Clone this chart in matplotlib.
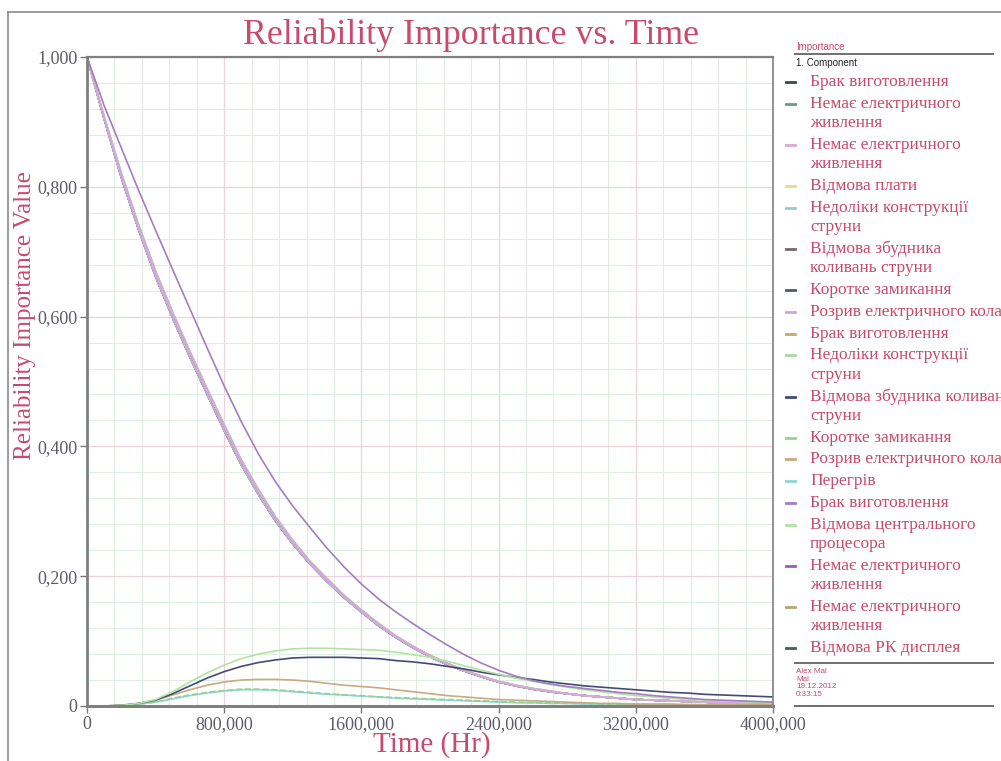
"""
Reliability Importance vs. Time (BlockSim-style chart)
"""
import numpy as np
import matplotlib
matplotlib.use("Agg")
from matplotlib import pyplot as plt
from matplotlib.lines import Line2D
from matplotlib.ticker import MultipleLocator

plt.rcParams["font.family"] = ["Liberation Serif", "DejaVu Serif"]

# time grid [Hr]
t = np.arange(0, 4_000_001, 100_000)

# values (every 100,000 Hr)
bundle = [1.000, 0.905, 0.815, 0.735, 0.662, 0.598, 0.538, 0.481, 0.425, 0.372,
          0.326, 0.285, 0.250, 0.219, 0.192, 0.167, 0.145, 0.124, 0.106, 0.090,
          0.076, 0.064, 0.054, 0.045, 0.037, 0.031, 0.026, 0.022, 0.019, 0.016,
          0.014, 0.012, 0.010, 0.009, 0.008, 0.007, 0.006, 0.005, 0.005, 0.004, 0.004]
bundle_hi = [1.000, 0.908, 0.821, 0.742, 0.670, 0.606, 0.546, 0.489, 0.433, 0.379,
             0.333, 0.291, 0.255, 0.223, 0.196, 0.170, 0.148, 0.127, 0.108, 0.092,
             0.078, 0.066, 0.055, 0.046, 0.038, 0.032, 0.027, 0.023, 0.019, 0.016,
             0.014, 0.012, 0.010, 0.009, 0.008, 0.007, 0.006, 0.005, 0.005, 0.004, 0.004]
upper = [1.000, 0.925, 0.860, 0.795, 0.733, 0.672, 0.612, 0.552, 0.493, 0.438,
         0.388, 0.345, 0.308, 0.275, 0.243, 0.214, 0.188, 0.165, 0.145, 0.127,
         0.110, 0.094, 0.079, 0.066, 0.055, 0.046, 0.039, 0.034, 0.030, 0.027,
         0.024, 0.021, 0.019, 0.016, 0.014, 0.012, 0.010, 0.009, 0.008, 0.007, 0.006]
navy = [0.000, 0.000, 0.001, 0.004, 0.009, 0.019, 0.031, 0.043, 0.053, 0.061,
        0.067, 0.071, 0.074, 0.075, 0.075, 0.075, 0.074, 0.073, 0.070, 0.068,
        0.065, 0.061, 0.057, 0.052, 0.048, 0.044, 0.041, 0.037, 0.034, 0.031,
        0.029, 0.027, 0.025, 0.023, 0.021, 0.020, 0.018, 0.017, 0.016, 0.015, 0.014]
cpu = [0.000, 0.000, 0.001, 0.004, 0.010, 0.022, 0.037, 0.051, 0.063, 0.073,
       0.080, 0.085, 0.088, 0.089, 0.089, 0.088, 0.087, 0.086, 0.083, 0.079,
       0.075, 0.069, 0.062, 0.055, 0.049, 0.043, 0.038, 0.033, 0.029, 0.025,
       0.022, 0.019, 0.016, 0.014, 0.012, 0.010, 0.009, 0.008, 0.007, 0.006, 0.005]
tan = [0.000, 0.000, 0.001, 0.004, 0.009, 0.017, 0.025, 0.032, 0.037, 0.040,
       0.041, 0.041, 0.040, 0.038, 0.035, 0.032, 0.030, 0.028, 0.025, 0.022,
       0.019, 0.016, 0.014, 0.012, 0.010, 0.009, 0.008, 0.007, 0.006, 0.005,
       0.004, 0.004, 0.003, 0.003, 0.003, 0.002, 0.002, 0.002, 0.002, 0.002, 0.002]
heat = [0.000, 0.000, 0.001, 0.003, 0.006, 0.011, 0.016, 0.020, 0.023, 0.025,
        0.025, 0.024, 0.022, 0.020, 0.018, 0.017, 0.015, 0.014, 0.012, 0.011,
        0.010, 0.009, 0.008, 0.007, 0.006, 0.005, 0.005, 0.004, 0.004, 0.003,
        0.003, 0.003, 0.002, 0.002, 0.002, 0.002, 0.002, 0.001, 0.001, 0.001, 0.001]
short = [0.000, 0.000, 0.001, 0.003, 0.006, 0.012, 0.017, 0.021, 0.024, 0.026,
         0.026, 0.025, 0.023, 0.021, 0.019, 0.017, 0.016, 0.014, 0.013, 0.012,
         0.011, 0.010, 0.009, 0.008, 0.007, 0.006, 0.005, 0.005, 0.004, 0.004,
         0.003, 0.003, 0.003, 0.002, 0.002, 0.002, 0.002, 0.002, 0.001, 0.001, 0.001]

labels = [
    "Брак виготовлення",
    "Немає електричного\nживлення",
    "Немає електричного\nживлення",
    "Відмова плати",
    "Недоліки конструкції\nструни",
    "Відмова збудника\nколивань струни",
    "Коротке замикання",
    "Розрив електричного кола",
    "Брак виготовлення",
    "Недоліки конструкції\nструни",
    "Відмова збудника коливань\nструни",
    "Коротке замикання",
    "Розрив електричного кола",
    "Перегрів",
    "Брак виготовлення",
    "Відмова центрального\nпроцесора",
    "Немає електричного\nживлення",
    "Немає електричного\nживлення",
    "Відмова РК дисплея",
]
colors = ["#3c4a48", "#6a9a88", "#d8a8d8", "#e8dc8a", "#98cccc", "#7a6868",
          "#4e5870", "#c8a8e0", "#c8a878", "#a8dca0", "#434a78", "#98d090",
          "#c8aa80", "#88d8d8", "#a47cc4", "#b0e4a0", "#9a5ea8", "#b8a870",
          "#505a58"]
values = [bundle, bundle, bundle_hi, bundle_hi, bundle, bundle, bundle, bundle,
          bundle, bundle_hi, navy, short, tan, heat, upper, cpu, bundle,
          bundle_hi, bundle]
styles = ["-"] * 19
styles[11] = "--"
# drawing order: dark bundle members underneath, pale ones on top
order = [0, 18, 6, 5, 1, 16, 17, 8, 4, 3, 9, 7, 2, 13, 11, 12, 10, 15, 14]

footer = ["Alex Mal", "Mal", "19.12.2012", "0:33:15"]

xticks = [0, 800_000, 1_600_000, 2_400_000, 3_200_000, 4_000_000]
xtick_labels = ["0", "800,000", "1600,000", "2400,000", "3200,000", "4000,000"]
yticks = [0, 0.2, 0.4, 0.6, 0.8, 1.0]
ytick_labels = ["0", "0,200", "0,400", "0,600", "0,800", "1,000"]

crimson = "#c84a6c"
W, H = 1001, 761


def fx(x):
    return x / W


def fy(y):
    return 1 - y / H


fig = plt.figure(figsize=(W / 100, H / 100), dpi=100)
ax = fig.add_axes([fx(87), fy(706), 686 / W, 649 / H])

for i in order:
    ax.plot(t, values[i], color=colors[i], lw=1.2, ls=styles[i])

ax.set_xlim(0, 4_000_000)
ax.set_ylim(0, 1)
ax.set_xticks(xticks)
ax.set_xticklabels(xtick_labels)
ax.set_yticks(yticks)
ax.set_yticklabels(ytick_labels)
ax.xaxis.set_minor_locator(MultipleLocator(160_000))
ax.yaxis.set_minor_locator(MultipleLocator(0.04))
ax.grid(which="minor", color="#dcefe2", lw=0.8)
ax.grid(which="major", color="#efd2da", lw=0.9)
ax.set_axisbelow(True)
ax.tick_params(which="minor", length=0)
ax.tick_params(which="major", length=5, width=1, color="#777777",
               labelsize=13, labelcolor="#5c5c6c", pad=2)
for side, lw in [("left", 2.0), ("bottom", 2.2), ("top", 1.6), ("right", 1.2)]:
    ax.spines[side].set_color("#808080")
    ax.spines[side].set_linewidth(lw)

# titles
fig.text(fx(471), fy(35), "Reliability Importance vs. Time", ha="center",
         va="center", fontsize=25.8, color=crimson)
fig.text(fx(25), fy(316), "Reliability Importance Value", ha="center",
         va="center", rotation=90, fontsize=18, color=crimson)
fig.text(fx(432), fy(745), "Time (Hr)", ha="center", va="center",
         fontsize=21, color=crimson)

# outer frame
gray = "#8a8a8a"
fig.add_artist(Line2D([fx(8), fx(8)], [fy(12), fy(761)], color=gray, lw=1.2))
fig.add_artist(Line2D([fx(8), fx(1001)], [fy(12), fy(12)], color=gray, lw=1.2))

# legend panel
sans = ["Liberation Sans", "DejaVu Sans"]
fig.text(fx(796), fy(47), "Importance", fontsize=7, color=crimson,
         family=sans, va="center")
fig.add_artist(Line2D([fx(795), fx(993)], [fy(54), fy(54)], color="#707070", lw=1.4))
fig.text(fx(796), fy(63), "1. Component", fontsize=7, color="#222222",
         family=sans, va="center")

y = 82
for lab, c in zip(labels, colors):
    fig.add_artist(Line2D([fx(786), fx(795)], [fy(y), fy(y)], color=c, lw=2.0))
    lines = lab.split("\n")
    for i, line in enumerate(lines):
        fig.text(fx(810), fy(y + 19.3 * i), line, fontsize=12.5, color=crimson,
                 va="center", ha="left")
    y += 19.3 * len(lines) + 2.5

fig.add_artist(Line2D([fx(795), fx(993)], [fy(663), fy(663)], color="#707070", lw=1.4))
for i, line in enumerate(footer):
    fig.text(fx(796), fy(671.5 + 7.7 * i), line, fontsize=5.8, color=crimson,
             family=sans, va="center")
fig.add_artist(Line2D([fx(795), fx(993)], [fy(706), fy(706)], color="#707070", lw=1.4))

fig.savefig("out.png", dpi=100)
